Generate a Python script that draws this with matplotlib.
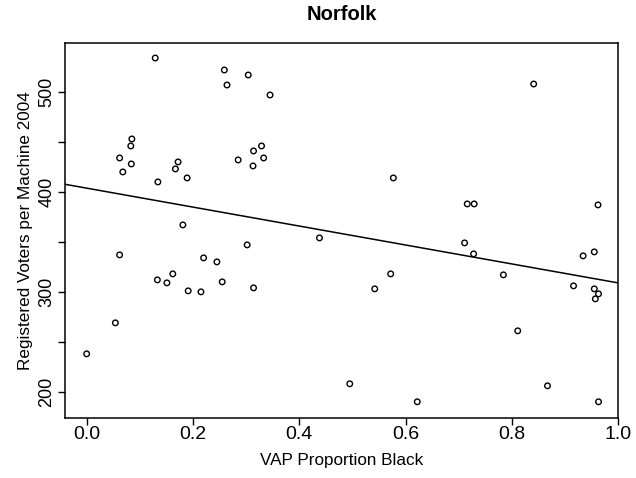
import matplotlib
matplotlib.use("Agg")
import matplotlib.pyplot as plt
import numpy as np

plt.rcParams['font.family'] = ['Liberation Sans', 'DejaVu Sans']

# VAP proportion black (x) and registered voters per machine 2004 (y)
prop_black = [
    0.129, 0.259, 0.304, 0.264, 0.345, 0.085, 0.083, 0.062, 0.084, 0.068,
    0.172, 0.167, 0.189, 0.134, 0.329, 0.314, 0.333, 0.285, 0.313, 0.181,
    0.841, 0.577, 0.716, 0.729, 0.962, 0.062, 0.438, 0.302, 0.220, 0.245,
    0.162, 0.133, 0.151, 0.255, 0.191, 0.215, 0.314, 0.054, 0.000, 0.495,
    0.711, 0.728, 0.572, 0.542, 0.784, 0.934, 0.955, 0.916, 0.955, 0.963,
    0.957, 0.811, 0.867, 0.622, 0.963,
]
voters_per_machine = [
    534, 522, 517, 507, 497, 453, 446, 434, 428, 420,
    430, 423, 414, 410, 446, 441, 434, 432, 426, 367,
    508, 414, 388, 388, 387, 337, 354, 347, 334, 330,
    318, 312, 309, 310, 301, 300, 304, 269, 238, 208,
    349, 338, 318, 303, 317, 336, 340, 306, 303, 298,
    293, 261, 206, 190, 190,
]

x = np.array(prop_black)
y = np.array(voters_per_machine)

fig = plt.figure(figsize=(6.36, 4.78), dpi=100)
ax = fig.add_axes([0.102, 0.126, 0.870, 0.784])

ax.scatter(x, y, s=16, facecolors='none', edgecolors='black', linewidths=1.0)

# OLS fit line
slope, intercept = np.polyfit(x, y, 1)
xl = np.array([-0.05, 1.05])
ax.plot(xl, intercept + slope * xl, color='black', linewidth=1.1)

ax.set_xlim(-0.041, 1.0)
ax.set_ylim(174, 549)

ax.set_xticks([0.0, 0.2, 0.4, 0.6, 0.8, 1.0])
ax.set_xticklabels(['0.0', '0.2', '0.4', '0.6', '0.8', '1.0'])
yt = [200, 250, 300, 350, 400, 450, 500]
ax.set_yticks(yt)
ax.set_yticklabels(['200', '', '300', '', '400', '', '500'], rotation=90, va='center')

ax.tick_params(direction='out', length=5, width=1, colors='black')
ax.tick_params(axis='x', labelsize=14, pad=1)
ax.tick_params(axis='y', labelsize=13, pad=2)
for sp in ax.spines.values():
    sp.set_linewidth(1.1)

ax.set_xlabel('VAP Proportion Black', fontsize=12.3, labelpad=7)
ax.set_ylabel('Registered Voters per Machine 2004', fontsize=12.3, labelpad=4)
fig.text(0.537, 0.97, 'Norfolk', ha='center', va='center', fontsize=14.5, fontweight='bold')

fig.savefig('out.png', dpi=100)
